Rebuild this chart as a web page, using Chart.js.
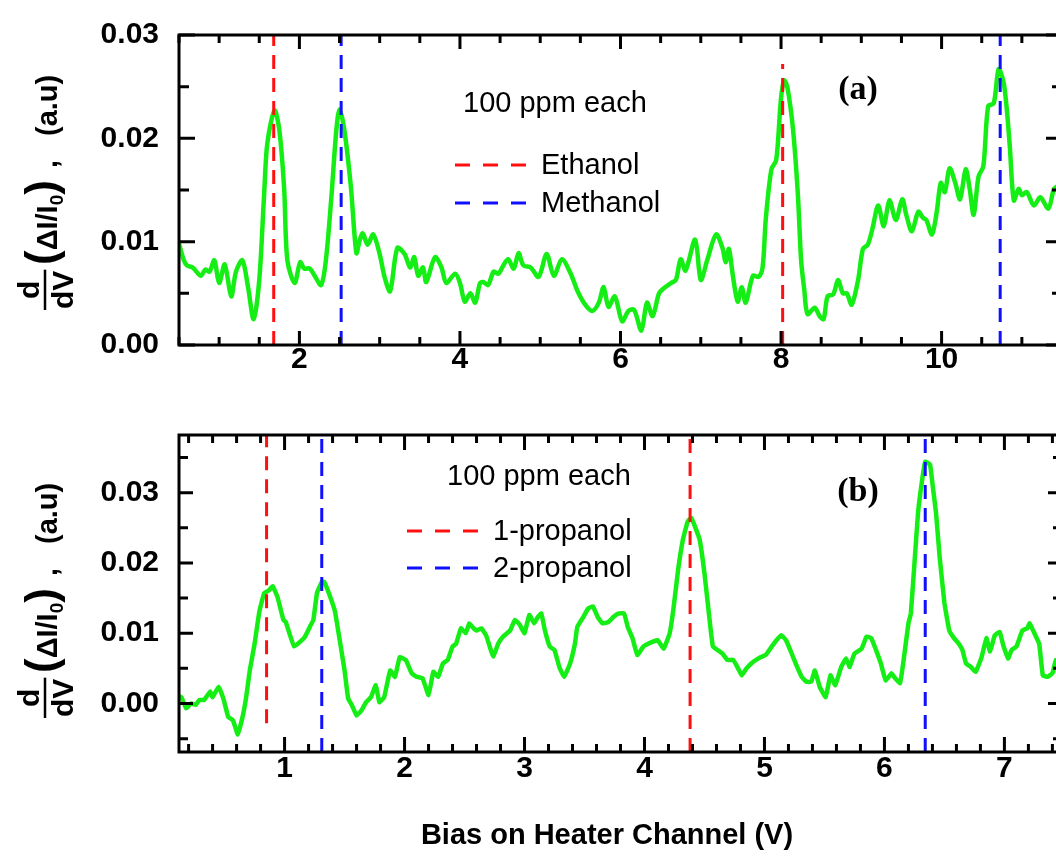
<!DOCTYPE html>
<html>
<head>
<meta charset="utf-8">
<script src="https://cdn.jsdelivr.net/npm/chart.js@4.4.1/dist/chart.umd.min.js"></script>
<style>
body { margin: 0; background: #fff; overflow: hidden; }
#wrap { position: relative; width: 1056px; height: 856px; overflow: hidden; background: #fff; }
#wrap canvas { position: absolute; left: 0; }
</style>
</head>
<body>
<div id="wrap">
  <canvas id="chartA" width="1080" height="400" style="top:0px"></canvas>
  <canvas id="chartB" width="1080" height="456" style="top:400px"></canvas>
</div>
<script>
/* panel (a): ethanol / methanol, 100 ppm each */
const xA = [0.50,0.56,0.60,0.67,0.77,0.83,0.88,0.94,1.00,1.07,
  1.15,1.21,1.29,1.36,1.43,1.50,1.56,1.60,1.69,1.75,
  1.81,1.85,1.94,2.01,2.06,2.13,2.19,2.27,2.33,2.40,
  2.46,2.50,2.56,2.64,2.71,2.75,2.79,2.85,2.92,3.00,
  3.06,3.13,3.22,3.31,3.38,3.43,3.48,3.54,3.58,3.69,
  3.77,3.83,3.94,4.00,4.06,4.13,4.19,4.25,4.29,4.35,
  4.42,4.48,4.54,4.60,4.67,4.73,4.79,4.88,4.98,5.08,
  5.17,5.27,5.38,5.46,5.56,5.65,5.73,5.79,5.85,5.93,
  6.02,6.10,6.17,6.26,6.33,6.40,6.48,6.54,6.63,6.69,
  6.75,6.81,6.93,7.00,7.08,7.19,7.27,7.31,7.35,7.40,
  7.46,7.51,7.56,7.65,7.72,7.77,7.81,7.88,7.94,8.00,
  8.04,8.08,8.15,8.21,8.25,8.29,8.33,8.42,8.48,8.53,
  8.58,8.65,8.71,8.77,8.82,8.88,8.96,9.02,9.08,9.14,
  9.21,9.28,9.35,9.43,9.51,9.56,9.63,9.71,9.77,9.81,
  9.88,9.94,9.99,10.04,10.10,10.17,10.23,10.30,10.35,10.40,
  10.46,10.52,10.58,10.65,10.71,10.77,10.81,10.85,10.90,10.96,
  11.00,11.06,11.15,11.23,11.33,11.40,11.45,11.50];
const yA = [0.0098,0.0082,0.0077,0.0075,0.0067,0.0073,0.0071,0.0082,0.0060,0.0078,
  0.0047,0.0071,0.0082,0.0056,0.0025,0.0063,0.0145,0.0195,0.0227,0.0208,
  0.0151,0.0082,0.0060,0.0080,0.0074,0.0074,0.0067,0.0058,0.0082,0.0145,
  0.0208,0.0228,0.0208,0.0154,0.0089,0.0101,0.0108,0.0097,0.0107,0.0088,
  0.0066,0.0052,0.0094,0.0088,0.0075,0.0085,0.0067,0.0075,0.0061,0.0085,
  0.0075,0.0060,0.0069,0.0060,0.0042,0.0050,0.0041,0.0060,0.0061,0.0058,
  0.0071,0.0069,0.0077,0.0083,0.0074,0.0089,0.0077,0.0075,0.0066,0.0088,
  0.0067,0.0083,0.0069,0.0053,0.0039,0.0033,0.0041,0.0056,0.0037,0.0047,
  0.0023,0.0033,0.0034,0.0014,0.0041,0.0028,0.0050,0.0055,0.0060,0.0063,
  0.0083,0.0072,0.0102,0.0063,0.0082,0.0107,0.0094,0.0080,0.0093,0.0067,
  0.0042,0.0056,0.0041,0.0067,0.0066,0.0075,0.0122,0.0170,0.0179,0.0239,
  0.0256,0.0249,0.0208,0.0145,0.0082,0.0053,0.0030,0.0036,0.0028,0.0025,
  0.0047,0.0049,0.0063,0.0050,0.0050,0.0039,0.0063,0.0093,0.0097,0.0113,
  0.0135,0.0115,0.0140,0.0121,0.0141,0.0126,0.0110,0.0129,0.0123,0.0121,
  0.0107,0.0129,0.0157,0.0148,0.0171,0.0157,0.0141,0.0170,0.0151,0.0126,
  0.0163,0.0173,0.0231,0.0234,0.0267,0.0255,0.0230,0.0192,0.0140,0.0151,
  0.0145,0.0148,0.0135,0.0143,0.0132,0.0151,0.0154,0.0155];
const xTicksA = [2, 4, 6, 8, 10];
const yTicksA = [0, 0.01, 0.02, 0.03];
const ethanolX = [1.68, 8.02];
const ethanolLo = [0, 0];
const ethanolHi = [0.03, 0.0272];
const methanolX = [2.52, 10.73];
const methanolLo = [0, 0];
const methanolHi = [0.03, 0.03];

/* panel (b): 1-propanol / 2-propanol, 100 ppm each */
const xB = [0.12,0.14,0.18,0.22,0.26,0.29,0.33,0.38,0.40,0.45,
  0.49,0.53,0.57,0.61,0.65,0.68,0.71,0.75,0.79,0.83,
  0.87,0.90,0.94,0.99,1.01,1.04,1.08,1.13,1.17,1.21,
  1.24,1.27,1.31,1.33,1.38,1.42,1.46,1.50,1.53,1.56,
  1.60,1.64,1.68,1.72,1.76,1.79,1.83,1.88,1.92,1.96,
  2.01,2.06,2.10,2.15,2.20,2.24,2.28,2.32,2.36,2.40,
  2.43,2.47,2.51,2.54,2.57,2.60,2.64,2.68,2.71,2.74,
  2.78,2.82,2.88,2.92,2.96,3.00,3.04,3.08,3.11,3.14,
  3.17,3.21,3.25,3.29,3.33,3.38,3.42,3.44,3.49,3.53,
  3.57,3.61,3.65,3.70,3.74,3.78,3.83,3.86,3.90,3.94,
  3.99,4.03,4.07,4.11,4.16,4.21,4.24,4.28,4.32,4.36,
  4.39,4.42,4.46,4.50,4.54,4.57,4.61,4.65,4.69,4.74,
  4.78,4.81,4.85,4.89,4.93,4.97,5.01,5.06,5.10,5.14,
  5.18,5.22,5.26,5.31,5.35,5.39,5.42,5.46,5.51,5.55,
  5.59,5.64,5.68,5.71,5.75,5.81,5.85,5.89,5.93,5.97,
  6.01,6.06,6.08,6.13,6.16,6.20,6.22,6.25,6.28,6.31,
  6.34,6.38,6.40,6.43,6.46,6.50,6.54,6.58,6.62,6.65,
  6.68,6.72,6.76,6.81,6.85,6.88,6.92,6.96,6.99,7.03,
  7.06,7.10,7.15,7.19,7.21,7.25,7.29,7.32,7.36,7.40,
  7.43,7.48];
const yB = [0.0010,0.0009,-0.0007,0.0000,-0.0002,0.0005,0.0005,0.0017,0.0009,0.0024,
  0.0007,-0.0019,-0.0024,-0.0044,-0.0019,0.0009,0.0047,0.0085,0.0131,0.0157,
  0.0161,0.0167,0.0152,0.0119,0.0116,0.0100,0.0081,0.0088,0.0095,0.0109,
  0.0119,0.0157,0.0173,0.0173,0.0152,0.0131,0.0090,0.0047,0.0007,-0.0002,
  -0.0017,-0.0010,0.0002,0.0009,0.0026,0.0002,0.0009,0.0047,0.0038,0.0066,
  0.0062,0.0043,0.0038,0.0036,0.0012,0.0045,0.0038,0.0057,0.0062,0.0081,
  0.0085,0.0107,0.0100,0.0114,0.0108,0.0104,0.0107,0.0097,0.0081,0.0067,
  0.0085,0.0095,0.0104,0.0119,0.0112,0.0100,0.0126,0.0114,0.0123,0.0128,
  0.0104,0.0081,0.0076,0.0052,0.0038,0.0057,0.0085,0.0109,0.0123,0.0135,
  0.0138,0.0123,0.0114,0.0116,0.0123,0.0128,0.0128,0.0109,0.0093,0.0069,
  0.0081,0.0085,0.0088,0.0090,0.0078,0.0100,0.0133,0.0190,0.0233,0.0259,
  0.0264,0.0252,0.0233,0.0185,0.0123,0.0081,0.0076,0.0071,0.0062,0.0062,
  0.0050,0.0040,0.0050,0.0057,0.0062,0.0066,0.0069,0.0081,0.0090,0.0097,
  0.0090,0.0074,0.0057,0.0038,0.0031,0.0031,0.0047,0.0024,0.0009,0.0040,
  0.0026,0.0052,0.0064,0.0052,0.0071,0.0078,0.0095,0.0093,0.0076,0.0057,
  0.0033,0.0043,0.0038,0.0029,0.0062,0.0114,0.0128,0.0199,0.0271,0.0313,
  0.0344,0.0340,0.0313,0.0271,0.0209,0.0143,0.0104,0.0093,0.0085,0.0076,
  0.0057,0.0052,0.0045,0.0066,0.0093,0.0074,0.0097,0.0102,0.0083,0.0064,
  0.0076,0.0081,0.0104,0.0107,0.0114,0.0100,0.0085,0.0040,0.0038,0.0043,
  0.0062,0.0060];
const xTicksB = [1, 2, 3, 4, 5, 6, 7];
const yTicksB = [0, 0.01, 0.02, 0.03];
const prop1X = [0.85, 4.38];
const prop1Lo = [-0.0028, -0.0069];
const prop1Hi = [0.0382, 0.0382];
const prop2X = [1.31, 6.34];
const prop2Lo = [-0.0069, -0.0069];
const prop2Hi = [0.0382, 0.0382];

const SANS = "'Liberation Sans', Arial, sans-serif";
const BOLD = "bold 30px " + SANS;
const GREEN = '#14ee14';

function points(xs, ys) {
    return xs.map((x, i) => ({ x: x, y: ys[i] }));
}
// vertical marker segments, broken apart with a null point
function markers(xs, lo, hi) {
    const out = [];
    xs.forEach((x, i) => {
        out.push({ x: x, y: lo[i] }, { x: x, y: hi[i] }, { x: x, y: null });
    });
    return out;
}
function nearMultiple(v, step) {
    const r = v / step;
    return Math.abs(r - Math.round(r)) < 1e-6;
}
function rotText(ctx, text, font, bx, by) {
    ctx.save();
    ctx.font = font;
    ctx.translate(bx, by);
    ctx.rotate(-Math.PI / 2);
    ctx.textAlign = 'left';
    ctx.textBaseline = 'alphabetic';
    ctx.fillText(text, 0, 0);
    const w = ctx.measureText(text).width;
    ctx.restore();
    return w;
}
function drawYTitle(ctx, base) {
    const big = "bold 44px " + SANS, sub = "bold 19px " + SANS;
    const small = "bold 29px " + SANS;
    ctx.font = BOLD;
    const wDen = ctx.measureText('dV').width;
    const wNum = ctx.measureText('d').width;
    rotText(ctx, 'dV', BOLD, 73, base);
    rotText(ctx, 'd', BOLD, 39, base - (wDen - wNum) / 2);
    ctx.lineWidth = 2.5;
    ctx.beginPath();
    ctx.moveTo(45, base + 1);
    ctx.lineTo(45, base - wDen - 1);
    ctx.stroke();
    let c = base - 44;
    c -= rotText(ctx, '(', big, 56, c);
    c -= rotText(ctx, '\u0394I/I', small, 57, c);
    c -= rotText(ctx, '0', sub, 63, c);
    rotText(ctx, ')', big, 56, c);
    rotText(ctx, ',', small, 57, base - 141);
    rotText(ctx, '(a.u)', small, 57, base - 173);
}

const decor = {
    id: 'decor',
    afterDatasetsDraw(chart, args, o) {
        const { ctx, chartArea: a } = chart;
        const x = chart.scales.x, y = chart.scales.y;
        ctx.save();
        ctx.strokeStyle = '#000';
        ctx.fillStyle = '#000';
        ctx.lineWidth = 3;
        ctx.setLineDash([]);
        // inward ticks on all four sides
        ctx.beginPath();
        for (let i = 0; ; i++) {
            const v = o.xFrom + i * o.xStep;
            if (v > x.max + 1e-9) break;
            if (v < x.min - 1e-9) continue;
            const len = nearMultiple(v, o.xMajor) ? o.xMajorLen : o.xMinorLen;
            const px = x.getPixelForValue(v);
            ctx.moveTo(px, a.bottom); ctx.lineTo(px, a.bottom - len);
            ctx.moveTo(px, a.top); ctx.lineTo(px, a.top + len);
        }
        for (let i = 0; ; i++) {
            const v = o.yFrom + i * o.yStep;
            if (v > y.max + 1e-9) break;
            if (v < y.min - 1e-9) continue;
            const len = nearMultiple(v, o.yMajor) ? o.yMajorLen : o.yMinorLen;
            const py = y.getPixelForValue(v);
            ctx.moveTo(a.left, py); ctx.lineTo(a.left + len, py);
            ctx.moveTo(a.right, py); ctx.lineTo(a.right - len, py);
        }
        ctx.stroke();
        ctx.strokeRect(a.left, a.top, a.right - a.left, a.bottom - a.top);

        // legend block inside the plot
        ctx.font = "29px " + SANS;
        ctx.textAlign = 'left';
        ctx.textBaseline = 'middle';
        ctx.fillText(o.note, o.noteX, o.noteY);
        chart.data.datasets.forEach((ds, i) => {
            if (!ds.inLegend) return;
            const ly = o.legendY[i];
            ctx.strokeStyle = ds.borderColor;
            ctx.setLineDash([15, 13]);
            ctx.beginPath();
            ctx.moveTo(o.legendX, ly);
            ctx.lineTo(o.legendX + 75, ly);
            ctx.stroke();
            ctx.setLineDash([]);
            ctx.fillText(ds.label, o.legendX + 86, ly + 1);
        });

        ctx.font = "bold 34px 'Liberation Serif', 'Times New Roman', serif";
        ctx.textAlign = 'center';
        ctx.fillText(o.panel, o.panelX, o.panelY);

        ctx.strokeStyle = '#000';
        drawYTitle(ctx, o.titleBase);
        if (o.xTitle) {
            ctx.font = "bold 29px " + SANS;
            ctx.textAlign = 'center';
            ctx.textBaseline = 'middle';
            ctx.fillText(o.xTitle, o.xTitleX, o.xTitleY);
        }
        ctx.restore();
    }
};

function lineSet(label, color, data) {
    return {
        label: label, data: data, inLegend: true,
        borderColor: color, borderWidth: 3, borderDash: [14, 9],
        pointRadius: 0, fill: false, spanGaps: false, tension: 0
    };
}
function curveSet(data, tension) {
    return {
        label: 'signal', data: data, inLegend: false,
        borderColor: GREEN, borderWidth: 4.5, pointRadius: 0,
        fill: false, tension: tension, borderJoinStyle: 'round', borderCapStyle: 'round'
    };
}
function panelOptions(p) {
    const tickFont = { family: SANS, size: 30, weight: 'bold', lineHeight: 1 };
    return {
        responsive: false,
        animation: false,
        events: [],
        layout: { padding: { top: p.padTop, right: 1080 - 1062, left: 0, bottom: 0 } },
        plugins: { legend: { display: false }, tooltip: { enabled: false }, decor: p.decor },
        scales: {
            x: {
                type: 'linear', min: p.xMin, max: p.xMax,
                grid: { display: false, drawTicks: false }, border: { display: false },
                afterBuildTicks: s => { s.ticks = p.xTicks.map(v => ({ value: v })); },
                afterFit: s => { s.height = p.xHeight; },
                ticks: { font: tickFont, color: '#000', padding: p.xPad, maxRotation: 0, autoSkip: false,
                         callback: v => String(v) }
            },
            y: {
                type: 'linear', min: p.yMin, max: p.yMax,
                grid: { display: false, drawTicks: false }, border: { display: false },
                afterBuildTicks: s => { s.ticks = p.yTicks.map(v => ({ value: v })); },
                afterFit: s => { s.width = 179; },
                ticks: { font: tickFont, color: '#000', padding: 20, autoSkip: false,
                         callback: v => v.toFixed(2) }
            }
        }
    };
}

new Chart(document.getElementById('chartA'), {
    type: 'line',
    data: {
        datasets: [
            lineSet('Ethanol', '#ff1010', markers(ethanolX, ethanolLo, ethanolHi)),
            lineSet('Methanol', '#1010ff', markers(methanolX, methanolLo, methanolHi)),
            curveSet(points(xA, yA), 0.3)
        ]
    },
    options: panelOptions({
        padTop: 27, xHeight: 55, xPad: 0,
        xMin: 0.5, xMax: 11.5, yMin: 0, yMax: 0.03,
        xTicks: xTicksA, yTicks: yTicksA,
        decor: {
            xFrom: 0.5, xStep: 0.5, xMajor: 2, xMajorLen: 14, xMinorLen: 8,
            yFrom: 0, yStep: 0.005, yMajor: 0.01, yMajorLen: 16, yMinorLen: 10,
            note: '100 ppm each', noteX: 463, noteY: 104,
            legendX: 455, legendY: [165, 203],
            panel: '(a)', panelX: 858, panelY: 90,
            titleBase: 309, xTitle: ''
        }
    }),
    plugins: [decor]
});

new Chart(document.getElementById('chartB'), {
    type: 'line',
    data: {
        datasets: [
            lineSet('1-propanol', '#ff1010', markers(prop1X, prop1Lo, prop1Hi)),
            lineSet('2-propanol', '#1010ff', markers(prop2X, prop2Lo, prop2Hi)),
            curveSet(points(xB, yB), 0.1)
        ]
    },
    options: panelOptions({
        padTop: 35, xHeight: 104, xPad: 2,
        xMin: 0.12, xMax: 7.48, yMin: -0.0069, yMax: 0.0382,
        xTicks: xTicksB, yTicks: yTicksB,
        decor: {
            xFrom: 0.2, xStep: 0.2, xMajor: 1, xMajorLen: 15, xMinorLen: 8,
            yFrom: -0.005, yStep: 0.005, yMajor: 0.01, yMajorLen: 14, yMinorLen: 9,
            note: '100 ppm each', noteX: 447, noteY: 77,
            legendX: 407, legendY: [131, 168],
            panel: '(b)', panelX: 858, panelY: 92,
            titleBase: 317,
            xTitle: 'Bias on Heater Channel (V)', xTitleX: 607, xTitleY: 436
        }
    }),
    plugins: [decor]
});
</script>
</body>
</html>
